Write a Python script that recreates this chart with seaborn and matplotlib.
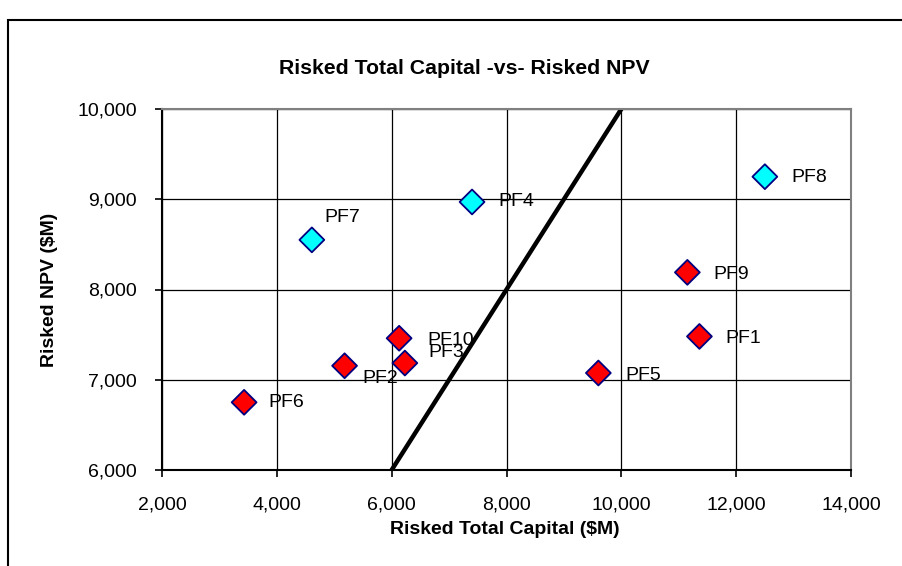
import pandas as pd
import matplotlib.pyplot as plt
import seaborn as sns
from matplotlib.patches import Rectangle
from matplotlib.ticker import FuncFormatter, MultipleLocator

# values
projects = ['PF1', 'PF2', 'PF3', 'PF4', 'PF5', 'PF6', 'PF7', 'PF8', 'PF9', 'PF10']
risked_capital = [11360, 5180, 6230, 7400, 9600, 3430, 4610, 12500, 11150, 6130]
risked_npv = [7480, 7155, 7185, 8970, 7075, 6750, 8550, 9250, 8190, 7460]
group = ['red', 'red', 'red', 'cyan', 'red', 'red', 'cyan', 'cyan', 'red', 'red']

# the 45-degree reference line
line_x = [6000, 10000]
line_y = [6000, 10000]

sns.set_style('white')
plt.rcParams['font.family'] = ['Liberation Sans', 'DejaVu Sans']
plt.rcParams['text.color'] = 'black'
plt.rcParams['axes.labelcolor'] = 'black'
plt.rcParams['xtick.color'] = 'black'
plt.rcParams['ytick.color'] = 'black'

df = pd.DataFrame({'project': projects, 'capital': risked_capital,
                   'npv': risked_npv, 'group': group})

fig = plt.figure(figsize=(9.02, 5.66), dpi=100)
ax = fig.add_axes([162 / 902, 1 - 470 / 566, 689 / 902, 361 / 566])

ax.set_xlim(2000, 14000)
ax.set_ylim(6000, 10000)
ax.xaxis.set_major_locator(MultipleLocator(2000))
ax.yaxis.set_major_locator(MultipleLocator(1000))
ax.grid(True, color='black', linewidth=0.9)
ax.set_axisbelow(True)

sns.lineplot(x=line_x, y=line_y, ax=ax, color='black', linewidth=3.2, zorder=2)
sns.scatterplot(data=df, x='capital', y='npv', hue='group', ax=ax,
                palette={'red': '#FF0000', 'cyan': '#00FFFF'},
                marker='D', s=160, edgecolor='#000080', linewidth=1.3,
                legend=False, zorder=3)

# label offsets in pixels (x right, y up)
offsets = {'PF1': (26, -2), 'PF2': (18, -13), 'PF3': (24, 11), 'PF4': (26, 0),
           'PF5': (27, -3), 'PF6': (24, 0), 'PF7': (13, 22), 'PF8': (27, -1),
           'PF9': (26, -2), 'PF10': (28, -2)}
for name, xv, yv in zip(projects, risked_capital, risked_npv):
    ax.annotate(name, (xv, yv), xytext=offsets[name], textcoords='offset pixels',
                ha='left', va='center', fontsize=14, color='black', zorder=4)

fmt = FuncFormatter(lambda v, p: f'{v:,.0f}')
ax.xaxis.set_major_formatter(fmt)
ax.yaxis.set_major_formatter(fmt)
ax.tick_params(axis='both', direction='out', length=5, width=1.2,
               color='black', labelcolor='black', labelsize=14,
               bottom=True, left=True)
ax.tick_params(axis='x', pad=14)
ax.tick_params(axis='y', pad=13)

for side in ['left', 'bottom']:
    ax.spines[side].set_color('black')
    ax.spines[side].set_linewidth(1.5)
for side in ['top', 'right']:
    ax.spines[side].set_color('#808080')
    ax.spines[side].set_linewidth(1.5)

ax.set_xlabel('Risked Total Capital ($M)', fontsize=14, fontweight='bold',
              va='center', color='black')
ax.set_ylabel('Risked NPV ($M)', fontsize=14, fontweight='bold',
              va='center', ha='center', color='black')
ax.xaxis.set_label_coords((505 - 162) / 689, (470 - 530) / 361)
ax.yaxis.set_label_coords((50 - 162) / 689, (470 - 290) / 361)

fig.text(464 / 902, 1 - 69 / 566, 'Risked Total Capital -vs- Risked NPV',
         ha='center', va='center', fontsize=15.3, fontweight='bold',
         color='black')

# outer chart-area border
fig.add_artist(Rectangle((8 / 902, -0.05), 1.0, 1 - 20 / 566 + 0.05,
                         transform=fig.transFigure, fill=False,
                         edgecolor='black', linewidth=1.5))

fig.savefig('out.png', dpi=100)
plt.close(fig)
